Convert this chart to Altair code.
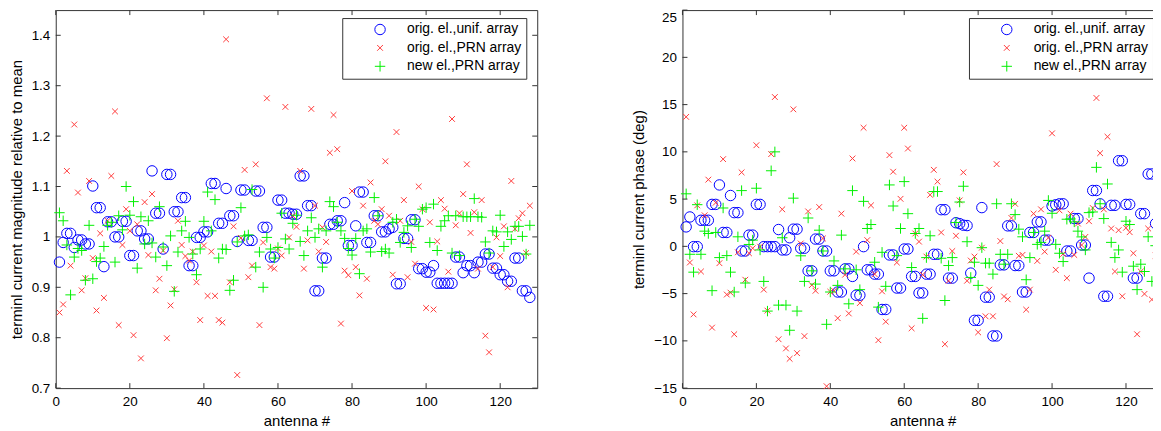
import altair as alt
import pandas as pd

antenna = list(range(1, 129))

series_names = ["orig. el.,unif. array", "orig. el.,PRN array", "new el.,PRN array"]
series_colors = ["#0000ff", "#ff3b3b", "#00f000"]
series_shapes = ["circle",
                 "M-0.55,-0.55L0.55,0.55M-0.55,0.55L0.55,-0.55",
                 "M-1,0L1,0M0,-1L0,1"]

x_ticks = [0, 20, 40, 60, 80, 100, 120]
mag_ticks = [0.7, 0.8, 0.9, 1.0, 1.1, 1.2, 1.3, 1.4]
phase_ticks = [-15, -10, -5, 0, 5, 10, 15, 20, 25]

mag_unif = [
    0.95, 0.989, 1.007, 1.007, 0.979, 0.994, 0.994, 0.986, 0.986, 1.101,
    1.058, 1.058, 0.941, 1.030, 1.030, 1.0, 1.0, 1.031, 1.031, 0.963,
    0.963, 1.012, 1.012, 0.996, 0.996, 1.131, 1.047, 1.047, 0.976, 1.124,
    1.124, 1.05, 1.05, 1.078, 1.078, 0.943, 0.943, 0.999, 0.999, 1.010,
    1.010, 1.106, 1.106, 1.027, 1.027, 1.096, 1.042, 1.042, 0.991, 1.093,
    1.093, 0.993, 0.993, 1.091, 1.091, 1.019, 1.019, 0.96, 0.96, 1.073,
    1.073, 1.047, 1.047, 1.045, 1.045, 1.121, 1.121, 1.062, 1.062, 0.893,
    0.893, 0.958, 0.958, 1.025, 1.025, 1.032, 1.032, 1.068, 0.983, 0.983,
    1.022, 1.089, 1.089, 0.989, 0.989, 1.042, 1.042, 1.01, 1.01, 1.016,
    1.019, 0.907, 0.907, 0.997, 0.997, 1.034, 1.034, 0.937, 0.937, 0.93,
    0.93, 0.943, 0.908, 0.908, 0.908, 0.908, 0.908, 0.96, 0.96, 0.929,
    0.943, 0.943, 0.929, 0.95, 0.95, 0.966, 0.966, 0.938, 0.938, 0.925,
    0.925, 0.912, 0.912, 0.958, 0.958, 0.893, 0.893, 0.880,
]
mag_prn = [
    0.850, 0.866, 1.131, 0.943, 1.223, 1.088, 0.894, 0.918, 1.111, 0.958,
    0.854, 1.007, 0.879, 1.032, 1.121, 1.249, 0.825, 0.984, 1.055, 1.012,
    0.805, 1.025, 0.759, 1.069, 0.964, 1.085, 0.894, 0.917, 0.973, 0.799,
    0.864, 0.896, 1.032, 0.984, 0.962, 0.953, 0.971, 0.910, 0.835, 0.983,
    0.883, 0.971, 0.883, 0.835, 0.830, 1.392, 0.910, 1.021, 0.726, 0.998,
    1.133, 0.92, 0.943, 1.144, 0.825, 0.989, 1.275, 0.94, 0.937, 0.977,
    0.963, 1.258, 0.999, 1.042, 1.02, 1.131, 0.937, 0.993, 1.254, 1.062,
    0.971, 1.019, 0.99, 1.167, 1.242, 1.174, 0.828, 0.933, 0.924, 1.091,
    0.94, 0.884, 1.062, 0.917, 1.108, 1.032, 1.025, 1.055, 1.150, 1.042,
    0.925, 1.208, 1.032, 1.073, 0.92, 0.99, 0.947, 1.10, 1.055, 0.859,
    1.029, 0.856, 0.991, 1.073, 1.056, 0.931, 1.234, 1.023, 1.047, 1.085,
    1.144, 1.008, 1.049, 0.937, 1.073, 0.804, 0.771, 0.94, 0.999, 0.962,
    1.021, 0.90, 1.111, 1.016, 1.037, 1.047, 0.968, 1.062,
]
mag_new = [
    1.048, 1.032, 0.984, 0.885, 0.96, 0.977, 0.973, 0.914, 1.023, 0.917,
    0.951, 0.958, 0.981, 1.023, 1.029, 0.95, 1.042, 1.014, 1.10, 1.043,
    1.07, 0.938, 1.040, 0.986, 1.032, 0.988, 0.96, 1.06, 0.98, 0.943,
    1.002, 0.892, 0.97, 1.012, 1.031, 0.999, 0.966, 0.925, 0.976, 1.031,
    1.089, 1.012, 1.074, 0.958, 0.976, 0.975, 0.894, 0.914, 0.99, 1.058,
    1.002, 1.004, 1.094, 0.94, 0.97, 0.9, 0.999, 0.976, 0.958, 0.979,
    1.047, 0.996, 0.976, 1.027, 1.043, 0.991, 0.963, 1.012, 1.038, 0.999,
    1.016, 0.94, 1.012, 1.07, 1.06, 1.029, 1.012, 0.997, 0.977, 0.964,
    0.997, 0.927, 1.012, 1.016, 0.97, 1.078, 1.042, 0.971, 0.976, 0.968,
    1.029, 1.035, 0.989, 1.009, 1.022, 0.979, 1.035, 1.021, 1.055, 1.058,
    0.989, 1.065, 0.973, 1.021, 1.032, 1.042, 0.968, 1.042, 0.963, 1.04,
    1.04, 1.04, 1.076, 1.04, 1.039, 0.99, 0.968, 1.012, 1.01, 1.043,
    0.981, 1.01, 0.995, 1.021, 1.021, 1.001, 0.966, 1.023,
]

ph_unif = [
    2.06, 3.11, -0.03, -0.03, 2.76, 2.76, 2.76, 4.44, 4.44, 6.5,
    1.47, 1.47, 5.38, 3.57, 3.57, -0.49, -0.49, 1.19, 1.19, 4.44,
    4.44, -0.03, -0.03, -0.03, -0.03, 1.78, -0.38, -0.38, 0.91, 1.82,
    1.82, -0.2, -0.2, -2.59, -2.59, 0.77, 0.77, -0.49, -0.49, -2.59,
    -2.59, -4.83, -4.83, -2.38, -2.38, -3.18, -5.17, -5.17, -0.03, -2.48,
    -2.48, -2.94, -2.94, -6.68, -6.68, -0.91, -0.91, -4.41, -4.41, -0.28,
    -0.28, -3.18, -3.18, -4.93, -4.93, -2.94, -2.94, -0.84, -0.84, 3.88,
    3.88, -3.36, -3.36, 2.5, 2.4, 2.24, 2.2, -2.83, -7.83, -7.83,
    4.1, -5.38, -5.38, -9.48, -9.48, -1.96, -1.96, 2.17, 2.17, -2.03,
    -2.03, -4.83, -4.83, 1.47, 1.47, 2.59, 2.59, 0.66, 0.66, 4.27,
    4.4, 4.5, 4.5, -0.49, -0.49, 2.94, 2.94, 0.14, 0.14, -3.36,
    5.91, 5.91, 4.5, -5.28, -5.28, 4.34, 4.34, 9.06, 9.06, 4.44,
    4.44, -3.36, -3.36, 3.46, 3.46, 7.66, 7.66, 2.41,
]
ph_prn = [
    13.7, -1.71, -7.2, 4.34, -2.66, 3.29, 7.06, -8.6, 4.62, -1.78,
    9.23, -5.1, -4.9, -9.3, -0.63, 7.83, -3.53, -0.73, -0.2, 10.7,
    -0.03, -4.58, -6.8, 9.76, 15.8, -9.83, 3.92, -10.8, -11.9, 14.5,
    -11.3, 0.3, -9.5, 3.7, -4.1, -4.7, 4.16, 0.84, -14.8, -4.8,
    -4.7, -7.6, 3.46, -3.0, -7.1, 9.3, -0.56, -6.0, 12.55, 0.66,
    4.34, -2.94, -9.93, -4.76, -7.97, 9.65, 7.9, -1.71, 5.03, 12.55,
    10.35, -8.67, 1.36, 0.5, -3.0, -1.08, 5.45, 8.1, 6.85, 1.47,
    -10.35, -3.64, -0.5, 1.12, 4.86, 7.83, -3.64, -1.5, -1.08, -9.1,
    -0.14, -7.4, -4.58, -7.4, 8.7, 0.56, -5.3, -5.6, 3.0, 4.5,
    -1.0, -0.9, -6.7, -4.58, 3.46, -1.54, 3.92, -0.56, 0.9, 11.96,
    -2.48, 3.81, -0.8, -3.36, 3.46, -0.91, 2.41, 0.14, 1.0, 2.66,
    4.06, 15.7, 9.86, 3.92, 11.6, 1.89, -2.66, 1.71, -5.28, 1.96,
    1.5, -0.73, -9.3, -2.66, -5.03, 1.89, -5.63, -0.98,
]
ph_new = [
    5.56, -0.84, -2.73, 4.41, -0.84, 1.61, 1.36, -4.69, 1.47, -1.19,
    4.06, -0.98, -2.73, -4.83, 1.01, 5.9, -3.88, 0.2, 0.66, 6.15,
    -0.38, -3.71, -6.85, 8.0, 10.0, -6.22, 0.91, -6.22, -8.88, 5.1,
    -6.85, -1.0, -3.71, 3.0, -2.59, -3.99, 1.71, -0.49, -8.25, -4.83,
    -1.54, -4.13, 1.19, -2.38, -6.08, 5.9, -2.48, -4.58, 4.76, 1.89,
    2.31, -1.68, -6.43, -0.63, -4.23, 6.5, 4.27, -0.98, 1.89, 6.85,
    3.46, -2.24, 1.36, 1.89, -7.62, -1.19, 1.12, 5.8, 5.8, -1.26,
    -5.73, -2.03, -1.19, 2.52, 4.69, 6.36, 0.49, -3.29, -1.68, -4.13,
    -0.14, -1.78, -1.78, -2.94, 4.51, -0.84, -1.89, -0.84, 4.51, 3.36,
    1.82, 1.01, -3.53, -1.19, 1.47, 0.21, 0.42, 1.61, 4.86, 3.5,
    0.21, -0.73, -1.61, 2.87, 2.9, 2.59, 1.61, 1.0, -0.38, 3.57,
    3.64, 8.36, 4.51, 2.94, 6.6, 0.42, -1.19, -0.38, -2.73, 2.66,
    2.31, -2.1, -4.58, -1.89, -2.66, 1.01, -3.71, 0.07,
]

FONT = "Liberation Sans"
AX = "#333333"
H = 380


def make_df(a, b, c):
    rows = []
    for name, vals in zip(series_names, [a, b, c]):
        for n, v in zip(antenna, vals):
            rows.append({"antenna": n, "value": v, "series": name})
    return pd.DataFrame(rows)


def legend():
    return alt.Legend(title=None, orient="none", legendX=288, legendY=8,
                      strokeColor=AX, fillColor="white", padding=4.5,
                      symbolOffset=26.5, labelOffset=20, rowPadding=3.5,
                      labelFont=FONT, labelFontSize=14, labelColor="black",
                      symbolSize=110, symbolStrokeWidth=1, cornerRadius=0)


def panel(df, ydomain, yticks, ytitle, fmt, W):
    xs = alt.Scale(domain=[0, 130], nice=False, zero=False)
    ys = alt.Scale(domain=ydomain, nice=False, zero=False)
    top_val = ydomain[1]
    xax = alt.Axis(values=x_ticks, title="antenna #", labelFlush=False,
                   labelOverlap=False, titlePadding=6, labelPadding=6)
    yax = alt.Axis(values=yticks, title=ytitle, format=fmt, labelFlush=False,
                   labelOverlap=False, titlePadding=7, labelPadding=6,
                   labelOffset={"condition": {"test": f"datum.value >= {top_val}", "value": 7},
                                "value": 0})
    xenc = alt.X("antenna:Q", scale=xs, axis=xax)
    yenc = alt.Y("value:Q", scale=ys, axis=yax)

    pts = alt.Chart(df).mark_point(filled=False, size=110, opacity=1, strokeWidth=1).encode(
        x=xenc,
        y=yenc,
        color=alt.Color("series:N", scale=alt.Scale(domain=series_names, range=series_colors),
                        legend=legend()),
        shape=alt.Shape("series:N", scale=alt.Scale(domain=series_names, range=series_shapes),
                        legend=legend()),
    )

    ydf = pd.DataFrame({"value": yticks})
    xdf = pd.DataFrame({"antenna": x_ticks})
    left = alt.Chart(ydf).mark_rule(color=AX, strokeWidth=1).encode(
        y=yenc, x=alt.value(0), x2=alt.value(5))
    right = alt.Chart(ydf).mark_rule(color=AX, strokeWidth=1).encode(
        y=yenc, x=alt.value(W - 5), x2=alt.value(W))
    bottom = alt.Chart(xdf).mark_rule(color=AX, strokeWidth=1).encode(
        x=xenc, y=alt.value(H - 5), y2=alt.value(H))
    top = alt.Chart(xdf).mark_rule(color=AX, strokeWidth=1).encode(
        x=xenc, y=alt.value(0), y2=alt.value(5))

    return alt.layer(pts, left, right, bottom, top).properties(width=W, height=H)


p1 = panel(make_df(mag_unif, mag_prn, mag_new), [0.7, 1.45], mag_ticks,
           "terminl current magnitude relative to mean", ".1~f", 484)
p2 = panel(make_df(ph_unif, ph_prn, ph_new), [-15, 25], phase_ticks,
           "terminl current phase (deg)", "d", 483)

chart = (
    alt.hconcat(p1, p2, spacing=93)
    .resolve_scale(color="independent", shape="independent")
    .resolve_legend(color="independent", shape="independent")
    .properties(padding={"left": 0, "top": 0, "right": -11, "bottom": 0}, background="white")
    .configure_view(stroke=AX, strokeWidth=1)
    .configure_axis(ticks=False, domain=False, grid=False,
                    labelFont=FONT, labelFontSize=13.5, labelColor="black",
                    titleFont=FONT, titleFontSize=15, titleFontWeight="normal",
                    titleColor="black")
)

chart.save("out.html", embed_options={"renderer": "svg", "actions": False})
